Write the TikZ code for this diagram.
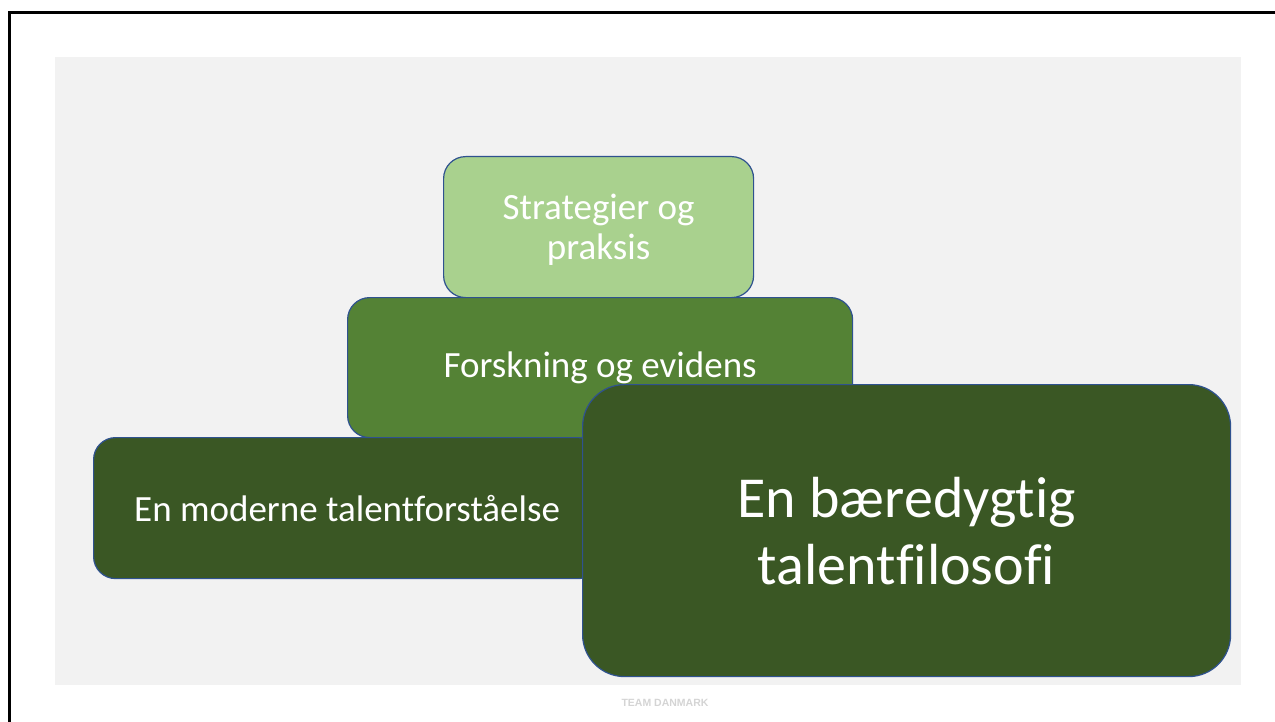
\documentclass[tikz,border=0pt]{standalone}
\usepackage{fontspec}
\setmainfont{Carlito}[Ligatures=NoCommon]
\newfontfamily\footfont{Liberation Sans}
\usetikzlibrary{positioning}

\definecolor{lightgreen}{HTML}{A9D18E}
\definecolor{midgreen}{HTML}{548235}
\definecolor{darkgreen}{HTML}{3A5724}
\definecolor{boxline}{HTML}{2F528F}
\definecolor{panelgray}{HTML}{F2F2F2}
\definecolor{footgray}{HTML}{D4D4D4}

\begin{document}
\begin{tikzpicture}[x=1pt,y=-1pt,
    block/.style={draw=boxline, line width=1.2pt, rounded corners=22pt,
        anchor=north west, inner sep=0pt, text=white, align=center,
        font=\fontsize{37}{40}\selectfont}]
        \useasboundingbox (0,0) rectangle (1275,722);

        % Draw the frame and the panel
        \draw[line width=3pt] (9,722) -- (9,12.5) -- (1275,12.5);
        \fill[panelgray] (55,57) rectangle (1241,685);

        % Draw the stacked blocks
        \node[block, fill=lightgreen, minimum width=310pt, minimum height=141pt,
            text depth=0pt]
            (strat) at (443,156) {Strategier og\\praksis};
        \node[block, fill=midgreen, minimum width=505pt, minimum height=140pt]
            (forsk) at (347,297) {Forskning og evidens};
        \node[block, fill=darkgreen, minimum width=507pt, minimum height=141pt]
            (moderne) at (93,437) {En moderne talentforståelse};

        % Draw the large block
        \node[block, fill=darkgreen, rounded corners=42pt, minimum width=648pt,
            minimum height=292pt, font=\fontsize{58}{67}\selectfont]
            (filosofi) at (582,384) {En bæredygtig\\talentfilosofi};

        % Add footer
        \node[font=\footfont\bfseries\fontsize{10.5}{12}\selectfont, text=footgray]
            (footer) at (665,703) {TEAM DANMARK};
    \end{tikzpicture}
\end{document}
